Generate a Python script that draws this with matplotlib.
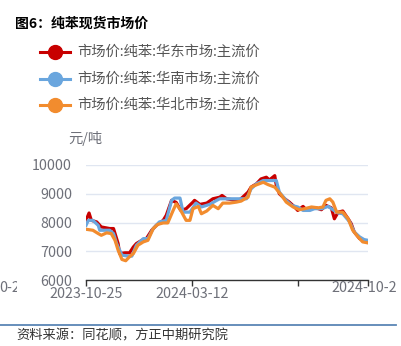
import pandas as pd
import matplotlib
matplotlib.use("Agg")
import matplotlib.pyplot as plt
from matplotlib.lines import Line2D
from matplotlib.transforms import Bbox

plt.rcParams['font.family'] = ['Noto Sans CJK SC', 'DejaVu Sans']

# 华东
east_dates = ["2023-10-25", "2023-10-29", "2023-11-01", "2023-11-08", "2023-11-14", "2023-11-25",
              "2023-11-30", "2023-12-02", "2023-12-06", "2023-12-08", "2023-12-15", "2023-12-21",
              "2023-12-26", "2023-12-30", "2024-01-06", "2024-01-12", "2024-01-19", "2024-01-25",
              "2024-02-03", "2024-02-07", "2024-02-14", "2024-02-20", "2024-02-26", "2024-03-04",
              "2024-03-13", "2024-03-15", "2024-03-22", "2024-03-31", "2024-04-08", "2024-04-17",
              "2024-04-20", "2024-04-26", "2024-05-04", "2024-05-13", "2024-05-17", "2024-05-24",
              "2024-05-28", "2024-06-04", "2024-06-10", "2024-06-17", "2024-06-21", "2024-06-28",
              "2024-06-30", "2024-07-04", "2024-07-11", "2024-07-17", "2024-07-24", "2024-07-28",
              "2024-08-04", "2024-08-08", "2024-08-15", "2024-08-21", "2024-08-28", "2024-09-03",
              "2024-09-10", "2024-09-14", "2024-09-19", "2024-09-25", "2024-10-02", "2024-10-06",
              "2024-10-10", "2024-10-17", "2024-10-23", "2024-10-28"]
east_price = [8075, 8330, 8075, 8020, 7845, 7790, 7790, 7615, 7270, 6920, 6945, 6945,
              7150, 7270, 7380, 7440, 7730, 7900, 8075, 8250, 8770, 8700, 8420, 8480,
              8710, 8770, 8630, 8675, 8825, 8880, 8940, 8825, 8790, 8790, 8880, 9055,
              9230, 9345, 9515, 9575, 9480, 9630, 9290, 9000, 8825, 8710, 8540, 8420,
              8560, 8445, 8510, 8510, 8445, 8595, 8510, 8130, 8360, 8400, 8130, 7960,
              7670, 7440, 7380, 7325]

# 华南
south_dates = ["2023-10-25", "2023-10-28", "2023-11-03", "2023-11-10", "2023-11-12", "2023-11-25",
               "2023-11-30", "2023-12-04", "2023-12-11", "2023-12-19", "2023-12-24", "2023-12-30",
               "2024-01-08", "2024-01-14", "2024-01-21", "2024-01-29", "2024-02-07", "2024-02-14",
               "2024-02-18", "2024-02-25", "2024-02-29", "2024-03-09", "2024-03-17", "2024-03-24",
               "2024-04-04", "2024-04-13", "2024-04-17", "2024-05-22", "2024-05-28", "2024-06-04",
               "2024-06-13", "2024-06-30", "2024-07-04", "2024-07-13", "2024-07-20", "2024-07-28",
               "2024-08-04", "2024-08-13", "2024-08-19", "2024-08-28", "2024-09-06", "2024-09-12",
               "2024-09-19", "2024-09-25", "2024-10-04", "2024-10-10", "2024-10-17", "2024-10-23",
               "2024-10-28"]
south_price = [7900, 8075, 8075, 7900, 7730, 7730, 7615, 7270, 6865, 6830, 6830, 7210,
               7440, 7440, 7790, 8020, 8075, 8770, 8850, 8850, 8360, 8360, 8675, 8540,
               8630, 8770, 8825, 8825, 9170, 9345, 9460, 9460, 9055, 8770, 8595, 8540,
               8420, 8420, 8480, 8480, 8560, 8445, 8330, 8305, 8020, 7670, 7500, 7405,
               7380]

# 华北
north_dates = ["2023-10-25", "2023-11-03", "2023-11-10", "2023-11-14", "2023-11-21", "2023-11-27",
               "2023-12-02", "2023-12-06", "2023-12-11", "2023-12-16", "2023-12-21", "2023-12-26",
               "2024-01-01", "2024-01-08", "2024-01-14", "2024-01-21", "2024-01-27", "2024-02-03",
               "2024-02-09", "2024-02-16", "2024-02-20", "2024-02-26", "2024-03-04", "2024-03-09",
               "2024-03-13", "2024-03-20", "2024-03-24", "2024-03-31", "2024-04-08", "2024-04-15",
               "2024-04-21", "2024-04-30", "2024-05-09", "2024-05-15", "2024-05-20", "2024-05-24",
               "2024-05-28", "2024-06-04", "2024-06-13", "2024-06-19", "2024-06-28", "2024-07-07",
               "2024-07-13", "2024-07-22", "2024-07-30", "2024-08-06", "2024-08-15", "2024-08-24",
               "2024-08-30", "2024-09-03", "2024-09-08", "2024-09-12", "2024-09-17", "2024-09-25",
               "2024-10-02", "2024-10-08", "2024-10-15", "2024-10-21", "2024-10-28"]
north_price = [7765, 7730, 7615, 7555, 7640, 7615, 7380, 7040, 6715, 6670, 6810, 6920,
               7210, 7325, 7380, 7790, 7935, 7985, 7985, 8420, 8650, 8420, 8075, 8075,
               8480, 8560, 8305, 8400, 8595, 8480, 8675, 8675, 8710, 8745, 8825, 8880,
               9230, 9310, 9400, 9320, 9230, 8940, 8710, 8540, 8445, 8480, 8540, 8510,
               8540, 8770, 8825, 8710, 8360, 8360, 8130, 7730, 7500, 7325, 7290]

series = [
    ("市场价:纯苯:华东市场:主流价", east_dates, east_price, "#c80000"),
    ("市场价:纯苯:华南市场:主流价", south_dates, south_price, "#6aa6de"),
    ("市场价:纯苯:华北市场:主流价", north_dates, north_price, "#f28c2e"),
]

y_ticks = [6000, 7000, 8000, 9000, 10000]
x_ticks = ["2023-10-25", "2024-03-12", "2024-07-28", "2024-10-28"]
x_tick_labels = ["2023-10-25", "2024-03-12", "", ""]

W, H = 401, 346
fig = plt.figure(figsize=(W / 100, H / 100), dpi=100)


def fx(x):
    return x / W


def fy(y):
    return 1 - y / H


ax = fig.add_axes([fx(86), fy(280), fx(368) - fx(86), fy(165) - fy(280)])

for name, d, v, c in series:
    ax.plot(pd.to_datetime(d), v, color=c, lw=2.3, solid_joinstyle="round")

ax.set_ylim(6000, 10000)
ax.set_yticks(y_ticks)
ax.set_xlim(pd.Timestamp("2023-10-25"), pd.Timestamp("2024-10-28"))
ax.set_xticks(pd.to_datetime(x_ticks))
ax.set_xticklabels(x_tick_labels)
ax.grid(axis="y", color="#e0e6f1", lw=1)
ax.set_axisbelow(True)
for s in ["top", "right", "left"]:
    ax.spines[s].set_visible(False)
ax.spines["bottom"].set_color("#333333")
ax.spines["bottom"].set_linewidth(1)
ax.tick_params(axis="y", length=0, pad=10, labelsize=10.3, labelcolor="#6e7079")
ax.tick_params(axis="x", length=4, width=1, color="#333333", pad=1,
               labelsize=10.3, labelcolor="#6e7079")

# 右端日期被画布截断
t = fig.text(fx(368), fy(288), "2024-10-28", ha="center", va="center",
             fontsize=10.3, color="#6e7079")
t.set_clip_box(Bbox.from_extents(0, 0, 396, H))
t.set_clip_on(True)
t2 = fig.text(fx(-1), fy(288), "0-2", ha="left", va="center",
              fontsize=10.3, color="#6e7079")
t2.set_clip_box(Bbox.from_extents(0, 0, 17, H))
t2.set_clip_on(True)

fig.text(fx(68), fy(138), "元/吨", ha="left", va="center", fontsize=10.3, color="#6e7079")

# 标题与图例
fig.text(fx(15), fy(24), "图6：纯苯现货市场价", ha="left", va="center",
         fontsize=10, fontweight="bold", color="#000000")
for i, (name, d, v, c) in enumerate(series):
    yy = fy(52 + i * 26.5)
    fig.add_artist(Line2D([fx(40), fx(70)], [yy, yy], color=c, lw=2.2,
                          transform=fig.transFigure))
    fig.add_artist(Line2D([fx(55)], [yy], color=c, marker="o", markersize=10,
                          transform=fig.transFigure))
    fig.text(fx(77), yy, name, ha="left", va="center", fontsize=10.3, color="#555555")

# 底部来源
fig.add_artist(Line2D([0, fx(396)], [fy(325), fy(325)], color="#5b86b5", lw=1.3,
                      transform=fig.transFigure))
fig.text(fx(16), fy(336), "资料来源：同花顺，方正中期研究院", ha="left", va="center",
         fontsize=9.5, style="italic", color="#333333")

fig.savefig("out.png", dpi=100)
